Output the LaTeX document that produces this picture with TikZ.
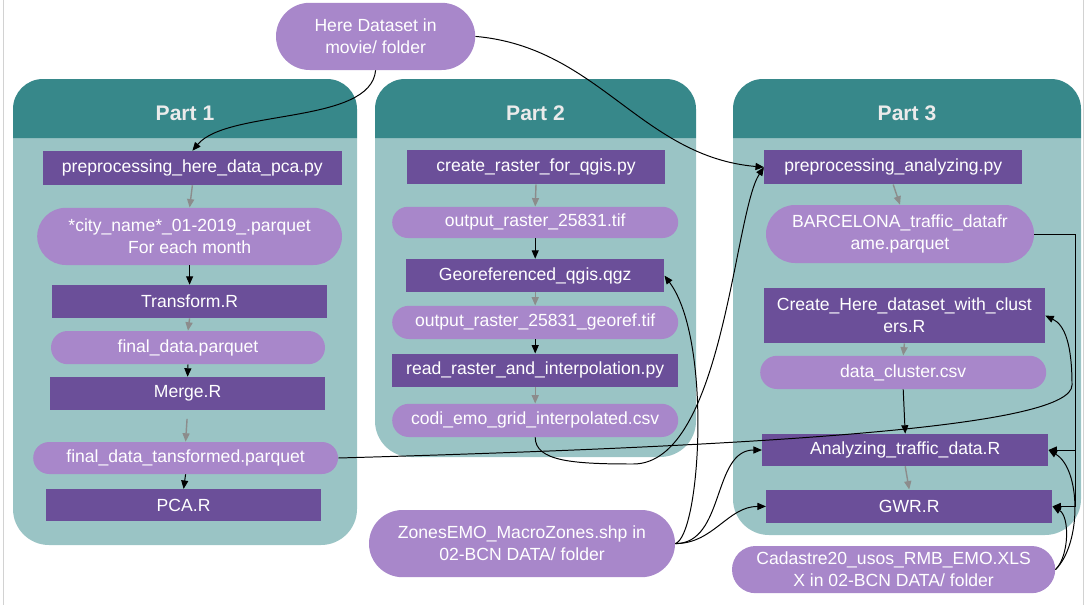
\documentclass[tikz,border=0pt]{standalone}
\usepackage{fontspec}
\setmainfont{Liberation Sans}
\usepackage{xcolor}
\usepackage{tikz}
\usetikzlibrary{shapes.misc,arrows.meta}
\definecolor{headteal}{HTML}{37888A}
\definecolor{bodyteal}{HTML}{9AC4C5}
\definecolor{scriptpurple}{HTML}{6B4F99}
\definecolor{filepurple}{HTML}{A887CA}

\begin{document}
\begin{tikzpicture}[
        script/.style={rectangle, fill=scriptpurple, text=white, inner sep=0pt, align=center,
            font=\fontsize{12.5}{15.5}\selectfont},
        datafile/.style={rounded rectangle, fill=filepurple, text=white, inner sep=0pt, align=center,
            font=\fontsize{12.5}{15.5}\selectfont},
        parttitle/.style={text=white!92!black, font=\fontsize{15}{18}\selectfont\bfseries},
        grayarrow/.style={-{Triangle[length=6pt,width=5pt]}, draw=gray!90, line width=1pt},
        blackarrow/.style={-{Triangle[length=6pt,width=5pt]}, line width=0.7pt}
    ]
        \useasboundingbox (0,0) rectangle (27.225,-15.125);
        % frame of the page
        \draw[gray!35] (0.075,0) -- (0.075,-15.125);
        \draw[gray!35] (27.075,0) -- (27.075,-15.125);

        % the three panels: left x, right x, bottom y, number
        \foreach \xa/\xb/\yb/\n in {0.325/8.925/-13.625/1, 9.375/17.4/-11.425/2, 18.325/27.025/-13.375/3} {
            \fill[bodyteal] (\xa,-3.45) -- (\xa,\yb+0.9) arc[start angle=180,end angle=270,radius=0.9]
                -- (\xb-0.9,\yb) arc[start angle=270,end angle=360,radius=0.9] -- (\xb,-3.45) -- cycle;
            \fill[headteal] (\xa,-3.45) -- (\xa,-2.725) arc[start angle=180,end angle=90,radius=0.75]
                -- (\xb-0.75,-1.975) arc[start angle=90,end angle=0,radius=0.75] -- (\xb,-3.45) -- cycle;
            \node[parttitle] (part\n) at ({(\xa+\xb)/2},-2.825) {Part \n};
        }

        % inputs outside the panels
        \node[datafile, minimum width=4.98cm, minimum height=1.68cm] (heredata) at (9.39,-0.91) {Here Dataset in\\movie/ folder};
        \node[datafile, minimum width=7.65cm, minimum height=1.68cm] (zones) at (13.05,-13.59) {ZonesEMO\_MacroZones.shp in\\02-BCN DATA/ folder};
        \node[datafile, minimum width=8.08cm, minimum height=1.18cm] (cadastre) at (22.34,-14.24) {Cadastre20\_usos\_RMB\_EMO.XLS\\X in 02-BCN DATA/ folder};

        % part 1
        \node[script, minimum width=7.48cm, minimum height=0.85cm] (pre1) at (4.81,-4.2) {preprocessing\_here\_data\_pca.py};
        \node[datafile, minimum width=7.62cm, minimum height=1.43cm] (city) at (4.74,-5.91) {*city\_name*\_01-2019\_.parquet\\For each month};
        \node[script, minimum width=6.88cm, minimum height=0.83cm] (transform) at (4.74,-7.54) {Transform.R};
        \node[datafile, minimum width=6.85cm, minimum height=0.83cm] (fdata) at (4.70,-8.69) {final\_data.parquet};
        \node[script, minimum width=6.88cm, minimum height=0.83cm] (merge) at (4.69,-9.84) {Merge.R};
        \node[datafile, minimum width=7.62cm, minimum height=0.8cm] (fdtrans) at (4.64,-11.45) {final\_data\_tansformed.parquet};
        \node[script, minimum width=6.88cm, minimum height=0.8cm] (pca) at (4.59,-12.63) {PCA.R};

        % part 2
        \node[script, minimum width=6.45cm, minimum height=0.85cm] (raster) at (13.4,-4.18) {create\_raster\_for\_qgis.py};
        \node[datafile, minimum width=7.15cm, minimum height=0.78cm] (outtif) at (13.38,-5.56) {output\_raster\_25831.tif};
        \node[script, minimum width=6.45cm, minimum height=0.83cm] (georef) at (13.38,-6.89) {Georeferenced\_qgis.qgz};
        \node[datafile, minimum width=7.15cm, minimum height=0.83cm] (geotif) at (13.38,-8.06) {output\_raster\_25831\_georef.tif};
        \node[script, minimum width=7.15cm, minimum height=0.83cm] (interp) at (13.38,-9.26) {read\_raster\_and\_interpolation.py};
        \node[datafile, minimum width=7.15cm, minimum height=0.83cm] (codi) at (13.38,-10.51) {codi\_emo\_grid\_interpolated.csv};

        % part 3
        \node[script, minimum width=6.45cm, minimum height=0.85cm] (prean) at (22.33,-4.18) {preprocessing\_analyzing.py};
        \node[datafile, minimum width=6.7cm, minimum height=1.45cm] (barca) at (22.5,-5.85) {BARCELONA\_traffic\_datafr\\ame.parquet};
        \node[script, minimum width=7.03cm, minimum height=1.38cm] (clusters) at (22.61,-7.89) {Create\_Here\_dataset\_with\_clust\\ers.R};
        \node[datafile, minimum width=7.15cm, minimum height=0.83cm] (dcluster) at (22.58,-9.31) {data\_cluster.csv};
        \node[script, minimum width=7.15cm, minimum height=0.8cm] (analyze) at (22.63,-11.25) {Analyzing\_traffic\_data.R};
        \node[script, minimum width=7.15cm, minimum height=0.83cm] (gwr) at (22.73,-12.66) {GWR.R};

        % steps inside the panels
        \draw[grayarrow] (pre1.south) -- (city.north);
        \draw[blackarrow] (city.south) -- (transform.north);
        \draw[grayarrow] (transform.south) -- (fdata.north);
        \draw[blackarrow] (fdata.south) -- (merge.north);
        \draw[grayarrow, shorten <=6pt] (merge.south) -- (fdtrans.north);
        \draw[blackarrow] (fdtrans.south) -- (pca.north);
        \draw[grayarrow] (raster.south) -- (outtif.north);
        \draw[blackarrow] (outtif.south) -- (georef.north);
        \draw[grayarrow] (georef.south) -- (geotif.north);
        \draw[blackarrow] (geotif.south) -- (interp.north);
        \draw[grayarrow] (interp.south) -- (codi.north);
        \draw[grayarrow] (prean.south) -- (barca.north);
        \draw[grayarrow] (clusters.south) -- (dcluster.north);
        \draw[blackarrow] (dcluster.south) -- (analyze.north);
        \draw[grayarrow] (analyze.south) -- (gwr.north);

        % links between the panels
        \draw[blackarrow] (heredata.south) to[out=-95,in=50,looseness=0.7] (pre1.north);
        \draw[blackarrow] (heredata.east) to[out=-5,in=175] (prean.west);
        \draw[blackarrow] (codi.south) .. controls +(0,-0.6) and +(-1.5,0) .. (15.83,-11.6)
            .. controls +(2.25,0) and +(-0.75,-1.13) .. (prean.west);
        \draw[blackarrow] (zones.east) .. controls +(0.625,0.2) and +(1.2,-1.6) .. (georef.east);
        \draw[blackarrow] (zones.east) to[out=0,in=180] (analyze.west);
        \draw[blackarrow] (zones.east) to[out=0,in=180] (gwr.west);
        \draw[blackarrow] (fdtrans.east) .. controls (20,-11.125) and (26.8,-10.625) .. (26.8,-9.625)
            .. controls (26.8,-8.625) and (26.625,-8.125) .. (clusters.east);
        \draw[blackarrow] (barca.east) -- ++(1.03,0) |- (analyze.east);
        \draw[blackarrow] (barca.east) -- ++(1.03,0) |- (gwr.east);
        \draw[blackarrow] (cadastre.east) to[out=45,in=-30,looseness=0.8] (analyze.east);
        \draw[blackarrow] (cadastre.east) to[out=45,in=-30,looseness=0.8] (gwr.east);
    \end{tikzpicture}
\end{document}
